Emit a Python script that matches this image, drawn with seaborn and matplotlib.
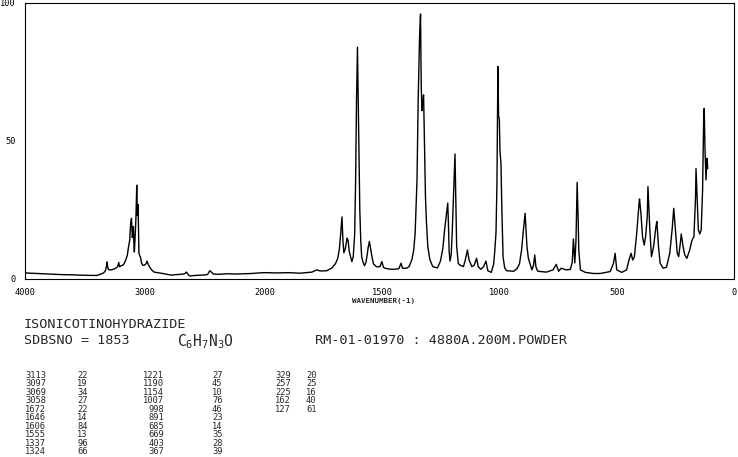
import numpy as np
import pandas as pd
import matplotlib
matplotlib.use("Agg")
import matplotlib.pyplot as plt
import seaborn as sns

W, H = 738, 457

# Raman trace (wavenumber in cm-1, relative intensity)
wavenumber = [
    4000, 3900, 3792, 3700, 3600, 3542, 3450, 3400, 3367, 3345, 3330, 3322, 3317, 3310, 3300,
    3280, 3260, 3240, 3228, 3219, 3212, 3200, 3185, 3175, 3160, 3148, 3138, 3128, 3120, 3113,
    3106, 3100, 3097, 3092, 3089, 3084, 3076, 3069, 3065, 3062, 3058, 3054, 3051, 3045, 3038,
    3030, 3020, 3005, 2990, 2983, 2975, 2963, 2945, 2924, 2880, 2840, 2782, 2740, 2700, 2670,
    2655, 2640, 2630, 2580, 2530, 2480, 2460, 2445, 2432, 2380, 2320, 2250, 2180, 2110, 2050,
    2000, 1950, 1900, 1850, 1800, 1780, 1765, 1737, 1715, 1700, 1690, 1683, 1677, 1672, 1668,
    1664, 1658, 1650, 1646, 1641, 1635, 1630, 1624, 1618, 1614, 1610, 1606, 1602, 1599, 1596,
    1592, 1588, 1583, 1576, 1570, 1565, 1560, 1555, 1550, 1545, 1538, 1524, 1510, 1502, 1495,
    1488, 1470, 1453, 1430, 1420, 1414, 1396, 1385, 1374, 1366, 1360, 1352, 1347, 1341, 1337,
    1334, 1331, 1328, 1324, 1320, 1316, 1312, 1306, 1297, 1285, 1265, 1252, 1242, 1234, 1226,
    1221, 1218, 1215, 1211, 1206, 1202, 1196, 1190, 1186, 1183, 1176, 1168, 1154, 1146, 1137,
    1130, 1118, 1108, 1098, 1091, 1080, 1068, 1058, 1050, 1035, 1025, 1020, 1015, 1011, 1007,
    1004, 1001, 998, 994, 990, 985, 978, 970, 940, 925, 915, 906, 899, 891, 886,
    883, 877, 871, 862, 855, 850, 845, 840, 836, 800, 772, 758, 748, 737, 716,
    698, 690, 685, 679, 674, 669, 665, 662, 655, 634, 600, 570, 528, 514, 507,
    500, 479, 458, 448, 439, 432, 425, 415, 405, 403, 397, 390, 383, 377, 370,
    367, 359, 352, 343, 333, 329, 322, 315, 302, 288, 274, 264, 257, 250, 242,
    236, 229, 225, 217, 210, 201, 189, 179, 171, 164, 162, 158, 152, 146, 140,
    134, 129, 127, 124, 119.5, 115, 112,
]
intensity = [
    2.2, 2.0, 1.8, 1.6, 1.5, 1.4, 1.3, 1.3, 1.8, 2.2, 3.0, 4.5, 6.2, 4.0, 3.3,
    3.3, 3.6, 4.0, 4.5, 6.0, 4.4, 4.8, 5.0, 5.5, 7.0, 8.5, 11.5, 14.0, 20.0, 22.0,
    15.0, 17.0, 19.0, 12.0, 9.8, 14.0, 22.0, 34.0, 23.0, 24.0, 27.0, 16.0, 9.5, 8.5, 8.0,
    6.0, 5.0, 5.0, 5.6, 6.5, 5.5, 4.4, 3.3, 2.5, 2.2, 1.9, 1.4, 1.6, 1.7, 1.9,
    2.5, 1.6, 1.1, 1.3, 1.4, 1.6, 3.0, 2.4, 1.8, 1.7, 1.9, 1.8, 1.9, 2.0, 2.2,
    2.3, 2.2, 2.3, 2.1, 2.5, 3.3, 2.9, 3.0, 4.0, 5.5, 7.5, 11.0, 17.0, 22.5, 14.0,
    9.5, 11.0, 14.8, 14.0, 10.0, 8.0, 6.3, 8.0, 16.0, 35.0, 65.0, 84.0, 60.0, 43.0, 25.0,
    14.0, 8.0, 6.3, 4.8, 6.0, 8.5, 11.6, 13.6, 11.0, 8.5, 5.5, 4.4, 4.5, 6.3, 4.2,
    3.9, 3.6, 3.5, 3.7, 5.7, 3.9, 3.9, 4.6, 7.0, 10.5, 16.6, 36.0, 65.0, 88.0, 96.0,
    70.0, 61.0, 64.0, 66.7, 48.0, 30.0, 21.0, 11.7, 7.0, 4.5, 4.0, 6.5, 11.0, 18.0, 24.0,
    27.5, 20.0, 10.0, 6.5, 9.0, 16.6, 31.0, 45.3, 26.0, 12.0, 5.6, 5.0, 4.5, 6.9, 10.5,
    6.9, 4.5, 5.0, 7.5, 4.5, 3.5, 4.5, 6.5, 3.0, 2.4, 5.5, 10.5, 17.0, 35.0, 77.0,
    59.0, 58.0, 46.0, 42.0, 25.0, 8.0, 4.0, 3.0, 2.8, 3.8, 5.5, 10.5, 17.0, 23.8, 16.0,
    11.7, 7.5, 5.8, 3.3, 5.0, 8.7, 4.5, 3.3, 2.8, 2.5, 3.3, 5.3, 2.8, 3.9, 3.3,
    3.5, 6.0, 14.5, 5.8, 14.0, 35.0, 22.6, 10.5, 3.3, 2.4, 2.0, 2.0, 2.7, 5.7, 9.3,
    3.3, 2.4, 3.3, 6.9, 9.3, 6.9, 8.0, 16.5, 27.4, 29.0, 23.8, 15.3, 12.3, 15.3, 22.6,
    33.5, 17.8, 8.1, 11.7, 19.0, 20.8, 11.7, 5.7, 3.9, 4.3, 9.3, 17.8, 25.6, 17.8, 9.3,
    8.1, 12.9, 16.3, 11.7, 8.7, 7.5, 10.5, 14.1, 15.3, 29.8, 40.0, 31.0, 17.8, 16.3, 17.8,
    32.0, 60.0, 61.8, 48.0, 35.9, 43.7, 40.0,
]

# peak table printed under the spectrum
peak_wn = [3113, 3097, 3069, 3058, 1672, 1646, 1606, 1555, 1337, 1324,
           1221, 1190, 1154, 1007, 998, 891, 685, 669, 403, 367,
           329, 257, 225, 162, 127]
peak_int = [22, 19, 34, 27, 22, 14, 84, 13, 96, 66,
            27, 45, 10, 76, 46, 23, 14, 35, 28, 39,
            20, 25, 16, 40, 61]

compound = "ISONICOTINOHYDRAZIDE"
sdbs_no = "SDBSNO = 1853"
formula = r"$\mathrm{C_6H_7N_3O}$"
conditions = "RM-01-01970 : 4880A.200M.POWDER"
x_label = "WAVENUMBER(-1)"

x_major = [4000, 3000, 2000, 1500, 1000, 500, 0]
y_major = [0, 50, 100]

# the axis is compressed by a factor ~2 above 2000 cm-1
K = 0.512


def fwd(x):
    x = np.asarray(x, dtype=float)
    return np.where(x > 2000, 2000 + (x - 2000) * K, x)


def inv(u):
    u = np.asarray(u, dtype=float)
    return np.where(u > 2000, 2000 + (u - 2000) / K, u)


def px(x, y):
    return x / W, 1 - y / H


sns.set_style("white")
plt.rcParams["font.family"] = ["DejaVu Sans Mono", "DejaVu Sans"]
plt.rcParams["mathtext.fontset"] = "custom"
plt.rcParams["mathtext.rm"] = "DejaVu Sans Mono"

fig = plt.figure(figsize=(W / 100, H / 100), dpi=100)
ax = fig.add_axes([25 / W, 1 - 279 / H, (734 - 25) / W, (279 - 3) / H])

df = pd.DataFrame({"wn": wavenumber, "I": intensity})
sns.lineplot(data=df, x="wn", y="I", ax=ax, color="black", lw=1.0,
             estimator=None, sort=False)

ax.set_xscale("function", functions=(fwd, inv))
ax.set_xlim(4000, 0)
ax.set_ylim(0, 100)
ax.set_xlabel("")
ax.set_ylabel("")

ax.set_xticks(x_major)
ax.set_xticklabels([str(v) for v in x_major])
ax.set_xticks([v for v in range(0, 4001, 100) if v not in x_major], minor=True)
ax.set_yticks(y_major)
ax.set_yticklabels([str(v) for v in y_major])
ax.set_yticks([v for v in range(0, 101, 10) if v not in y_major], minor=True)

ax.tick_params(which="major", direction="out", length=5.8, width=0.75,
               labelsize=6.2, pad=1.0, color="black", labelcolor="black")
ax.tick_params(which="minor", direction="out", length=2.8, width=0.75, color="black")
for s in ax.spines.values():
    s.set_visible(True)
    s.set_color("black")
    s.set_linewidth(0.8)

fig.text(*px(383, 301.5), x_label, fontsize=5.4, ha="center", va="center",
         fontweight="bold")

fig.text(*px(24, 324), compound, fontsize=9.7, ha="left", va="center")
fig.text(*px(24, 341), sdbs_no, fontsize=9.7, ha="left", va="center")
fig.text(*px(177, 342), formula, fontsize=10.5, ha="left", va="center")
fig.text(*px(315, 341), conditions, fontsize=9.7, ha="left", va="center")

# three groups of ten rows
col_wn_right = [46, 164, 291]
col_int_left = [77, 212, 306]
for i, (w, v) in enumerate(zip(peak_wn, peak_int)):
    g, r = divmod(i, 10)
    y = 375 + r * 8.55
    fig.text(*px(col_wn_right[g], y), str(w), fontsize=6.3, ha="right", va="center")
    fig.text(*px(col_int_left[g], y), str(v), fontsize=6.3, ha="left", va="center")

fig.savefig("out.png", dpi=100)
